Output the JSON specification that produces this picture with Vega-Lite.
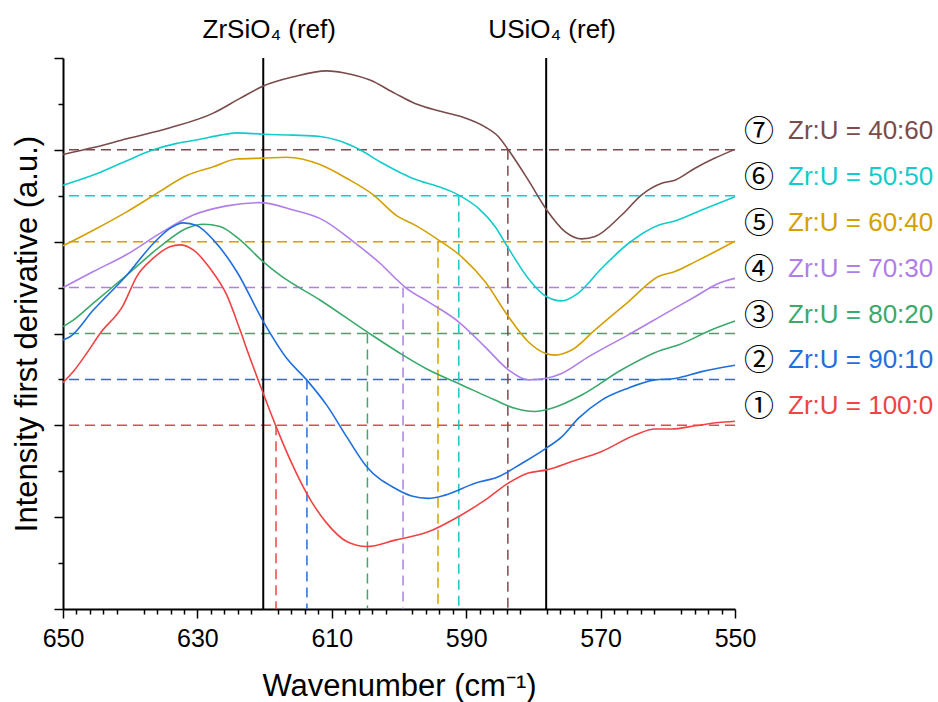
{
  "$schema": "https://vega.github.io/schema/vega-lite/v6.json",
  "width": 672,
  "height": 551,
  "autosize": {"type": "none"},
  "padding": {"left": 63, "top": 58, "right": 203, "bottom": 93},
  "background": "white",
  "config": {
    "view": {"stroke": null},
    "axis": {
      "domainColor": "black", "domainWidth": 2, "tickColor": "black", "tickWidth": 1.5,
      "labelColor": "black", "titleColor": "black", "labelFont": "Liberation Sans",
      "titleFont": "Liberation Sans", "titleFontWeight": "normal", "grid": false
    }
  },
  "resolve": {"axis": {"x": "independent"}},
  "datasets": {
    "series": [
      {"s": 1, "base": 4, "xc": 618.3, "num": "①", "label": "Zr:U = 100:0"},
      {"s": 2, "base": 5, "xc": 613.7, "num": "②", "label": "Zr:U = 90:10"},
      {"s": 3, "base": 6, "xc": 604.7, "num": "③", "label": "Zr:U = 80:20"},
      {"s": 4, "base": 7, "xc": 599.4, "num": "④", "label": "Zr:U = 70:30"},
      {"s": 5, "base": 8, "xc": 594.2, "num": "⑤", "label": "Zr:U = 60:40"},
      {"s": 6, "base": 9, "xc": 591.1, "num": "⑥", "label": "Zr:U = 50:50"},
      {"s": 7, "base": 10, "xc": 583.8, "num": "⑦", "label": "Zr:U = 40:60"}
    ],
    "refs": [
      {"name": "ZrSiO₄ (ref)", "x": 620.2},
      {"name": "USiO₄ (ref)", "x": 578.1}
    ],
    "curves": [
      {"s":7,"x":650,"y":9.90},{"s":7,"x":645.49,"y":10.05},{"s":7,"x":640.52,"y":10.24},{"s":7,"x":634.08,"y":10.48},{"s":7,"x":627.63,"y":10.80},{"s":7,"x":623.66,"y":11.12},{"s":7,"x":620.19,"y":11.39},{"s":7,"x":615.73,"y":11.59},{"s":7,"x":610.76,"y":11.72},{"s":7,"x":608.29,"y":11.68},{"s":7,"x":604.32,"y":11.52},{"s":7,"x":600.6,"y":11.23},{"s":7,"x":597.62,"y":11.01},{"s":7,"x":594.15,"y":10.85},{"s":7,"x":590.67,"y":10.72},{"s":7,"x":587.2,"y":10.50},{"s":7,"x":585.22,"y":10.29},{"s":7,"x":583.73,"y":10.0},{"s":7,"x":580.76,"y":9.34},{"s":7,"x":578.02,"y":8.69},{"s":7,"x":575.3,"y":8.22},{"s":7,"x":572.81,"y":8.06},{"s":7,"x":570.83,"y":8.11},{"s":7,"x":566.86,"y":8.58},{"s":7,"x":563.88,"y":9.02},{"s":7,"x":560.91,"y":9.27},{"s":7,"x":558.93,"y":9.34},{"s":7,"x":555.95,"y":9.60},{"s":7,"x":552.98,"y":9.82},{"s":7,"x":550,"y":10.01},
      {"s":6,"x":650,"y":9.23},{"s":6,"x":645.49,"y":9.45},{"s":6,"x":641.03,"y":9.73},{"s":6,"x":636.56,"y":10.0},{"s":6,"x":633.08,"y":10.14},{"s":6,"x":629.61,"y":10.23},{"s":6,"x":626.64,"y":10.32},{"s":6,"x":624.15,"y":10.37},{"s":6,"x":620.19,"y":10.34},{"s":6,"x":615.73,"y":10.32},{"s":6,"x":611.76,"y":10.29},{"s":6,"x":608.78,"y":10.19},{"s":6,"x":605.8,"y":10.0},{"s":6,"x":602.83,"y":9.74},{"s":6,"x":600.3,"y":9.54},{"s":6,"x":597.62,"y":9.36},{"s":6,"x":594.15,"y":9.20},{"s":6,"x":591.18,"y":9.02},{"s":6,"x":588.2,"y":8.73},{"s":6,"x":585.71,"y":8.33},{"s":6,"x":583.73,"y":7.86},{"s":6,"x":580.76,"y":7.20},{"s":6,"x":578.02,"y":6.80},{"s":6,"x":575.79,"y":6.71},{"s":6,"x":573.32,"y":6.88},{"s":6,"x":569.84,"y":7.42},{"s":6,"x":565.88,"y":7.96},{"s":6,"x":561.41,"y":8.36},{"s":6,"x":558.93,"y":8.45},{"s":6,"x":554.96,"y":8.69},{"s":6,"x":550,"y":8.98},
      {"s":5,"x":650,"y":7.91},{"s":5,"x":645.49,"y":8.25},{"s":5,"x":640.52,"y":8.65},{"s":5,"x":636.06,"y":9.05},{"s":5,"x":631.59,"y":9.44},{"s":5,"x":627.63,"y":9.63},{"s":5,"x":624.15,"y":9.80},{"s":5,"x":620.19,"y":9.82},{"s":5,"x":616.71,"y":9.84},{"s":5,"x":611.76,"y":9.68},{"s":5,"x":607.78,"y":9.38},{"s":5,"x":603.82,"y":9.02},{"s":5,"x":600.3,"y":8.56},{"s":5,"x":597.62,"y":8.36},{"s":5,"x":594.15,"y":8.04},{"s":5,"x":590.67,"y":7.67},{"s":5,"x":587.2,"y":7.13},{"s":5,"x":583.73,"y":6.37},{"s":5,"x":580.76,"y":5.82},{"s":5,"x":578.27,"y":5.57},{"s":5,"x":576.79,"y":5.53},{"s":5,"x":574.3,"y":5.64},{"s":5,"x":570.83,"y":6.08},{"s":5,"x":565.88,"y":6.69},{"s":5,"x":561.41,"y":7.24},{"s":5,"x":558.93,"y":7.35},{"s":5,"x":555.95,"y":7.56},{"s":5,"x":552.98,"y":7.78},{"s":5,"x":550,"y":8.01},
      {"s":4,"x":650,"y":7.0},{"s":4,"x":645.49,"y":7.35},{"s":4,"x":640.52,"y":7.72},{"s":4,"x":635.57,"y":8.18},{"s":4,"x":630.61,"y":8.58},{"s":4,"x":625.64,"y":8.78},{"s":4,"x":620.68,"y":8.85},{"s":4,"x":615.73,"y":8.69},{"s":4,"x":611.27,"y":8.47},{"s":4,"x":606.8,"y":8.0},{"s":4,"x":602.83,"y":7.53},{"s":4,"x":600.3,"y":7.17},{"s":4,"x":599.11,"y":7.01},{"s":4,"x":595.64,"y":6.69},{"s":4,"x":591.18,"y":6.26},{"s":4,"x":587.2,"y":5.71},{"s":4,"x":583.73,"y":5.21},{"s":4,"x":580.76,"y":4.99},{"s":4,"x":578.27,"y":5.02},{"s":4,"x":575.79,"y":5.13},{"s":4,"x":571.83,"y":5.49},{"s":4,"x":565.88,"y":5.97},{"s":4,"x":559.92,"y":6.47},{"s":4,"x":555.95,"y":6.80},{"s":4,"x":552.48,"y":7.09},{"s":4,"x":550,"y":7.20},
      {"s":3,"x":650,"y":6.15},{"s":3,"x":648.47,"y":6.29},{"s":3,"x":645.49,"y":6.66},{"s":3,"x":640.52,"y":7.27},{"s":3,"x":635.57,"y":7.89},{"s":3,"x":631.59,"y":8.29},{"s":3,"x":629.12,"y":8.38},{"s":3,"x":626.64,"y":8.33},{"s":3,"x":623.66,"y":8.04},{"s":3,"x":620.19,"y":7.56},{"s":3,"x":617.71,"y":7.27},{"s":3,"x":611.76,"y":6.73},{"s":3,"x":604.81,"y":6.04},{"s":3,"x":599.85,"y":5.57},{"s":3,"x":595.64,"y":5.21},{"s":3,"x":590.67,"y":4.88},{"s":3,"x":585.71,"y":4.55},{"s":3,"x":582.74,"y":4.37},{"s":3,"x":579.76,"y":4.30},{"s":3,"x":577.28,"y":4.37},{"s":3,"x":572.81,"y":4.66},{"s":3,"x":566.86,"y":5.21},{"s":3,"x":560.91,"y":5.64},{"s":3,"x":558.44,"y":5.75},{"s":3,"x":553.47,"y":6.08},{"s":3,"x":550,"y":6.27},
      {"s":2,"x":650,"y":5.86},{"s":2,"x":648.96,"y":5.93},{"s":2,"x":645.49,"y":6.51},{"s":2,"x":640.52,"y":7.27},{"s":2,"x":636.56,"y":7.96},{"s":2,"x":634.08,"y":8.29},{"s":2,"x":632.1,"y":8.41},{"s":2,"x":630.1,"y":8.35},{"s":2,"x":627.63,"y":8.04},{"s":2,"x":624.15,"y":7.35},{"s":2,"x":620.19,"y":6.26},{"s":2,"x":616.71,"y":5.46},{"s":2,"x":613.74,"y":4.99},{"s":2,"x":610.76,"y":4.44},{"s":2,"x":607.78,"y":3.75},{"s":2,"x":604.81,"y":3.10},{"s":2,"x":600.6,"y":2.63},{"s":2,"x":598.11,"y":2.46},{"s":2,"x":595.64,"y":2.41},{"s":2,"x":593.15,"y":2.48},{"s":2,"x":588.69,"y":2.74},{"s":2,"x":585.22,"y":2.88},{"s":2,"x":581.74,"y":3.17},{"s":2,"x":578.02,"y":3.51},{"s":2,"x":575.79,"y":3.75},{"s":2,"x":573.32,"y":4.15},{"s":2,"x":569.84,"y":4.55},{"s":2,"x":565.88,"y":4.81},{"s":2,"x":561.9,"y":4.99},{"s":2,"x":558.93,"y":5.02},{"s":2,"x":554.96,"y":5.17},{"s":2,"x":550,"y":5.31},
      {"s":1,"x":650,"y":4.93},{"s":1,"x":648.47,"y":5.17},{"s":1,"x":646.47,"y":5.57},{"s":1,"x":644.49,"y":6.0},{"s":1,"x":641.03,"y":6.62},{"s":1,"x":639.03,"y":7.24},{"s":1,"x":636.56,"y":7.64},{"s":1,"x":634.08,"y":7.89},{"s":1,"x":632.59,"y":7.93},{"s":1,"x":630.61,"y":7.82},{"s":1,"x":628.13,"y":7.42},{"s":1,"x":625.64,"y":6.84},{"s":1,"x":623.66,"y":6.08},{"s":1,"x":622.43,"y":5.57},{"s":1,"x":620.68,"y":4.88},{"s":1,"x":618.2,"y":3.94},{"s":1,"x":615.73,"y":3.10},{"s":1,"x":613.74,"y":2.52},{"s":1,"x":610.76,"y":1.87},{"s":1,"x":607.78,"y":1.47},{"s":1,"x":604.81,"y":1.36},{"s":1,"x":600.6,"y":1.50},{"s":1,"x":595.64,"y":1.68},{"s":1,"x":591.18,"y":2.01},{"s":1,"x":587.2,"y":2.37},{"s":1,"x":583.73,"y":2.74},{"s":1,"x":580.76,"y":2.96},{"s":1,"x":578.02,"y":3.03},{"s":1,"x":574.3,"y":3.21},{"s":1,"x":569.84,"y":3.43},{"s":1,"x":564.88,"y":3.79},{"s":1,"x":561.9,"y":3.92},{"s":1,"x":559.42,"y":3.92},{"s":1,"x":555.95,"y":3.99},{"s":1,"x":552.48,"y":4.06},{"s":1,"x":550,"y":4.09}
    ]
  },
  "layer": [
    {
      "data": {"name": "series"},
      "mark": {"type": "rule", "strokeDash": [10, 6], "strokeWidth": 1.5},
      "encoding": {
        "y": {"field": "base", "type": "quantitative",
          "scale": {"domain": [0, 12], "nice": false, "zero": false},
          "axis": {"title": "Intensity first derivative (a.u.)", "titleFontSize": 31, "titlePadding": 10,
            "values": [0,1,2,3,4,5,6,7,8,9,10,11,12], "labels": false,
            "tickSize": {"condition": {"test": "datum.value % 2 === 0", "value": 9}, "value": 5}}},
        "color": {"field": "s", "type": "nominal", "legend": null,
          "scale": {"domain": [1,2,3,4,5,6,7], "range": ["#f04343","#1f6fde","#3aa96b","#b07ee8","#d4a000","#12cccc","#7a4b4b"]}}
      }
    },
    {
      "data": {"name": "series"},
      "mark": {"type": "rule", "strokeDash": [10, 6], "strokeWidth": 1.5},
      "encoding": {
        "x": {"field": "xc", "type": "quantitative",
          "scale": {"domain": [550, 650], "reverse": true, "nice": false, "zero": false},
          "axis": {"orient": "bottom", "title": "Wavenumber (cm⁻¹)", "titleFontSize": 31, "titlePadding": 20,
            "values": [550, 570, 590, 610, 630, 650],
            "labelFontSize": 25, "labelPadding": 8, "labelFlush": false, "labelOverlap": false,
            "tickSize": 9}},
        "y": {"field": "base", "type": "quantitative"},
        "y2": {"datum": 0},
        "color": {"field": "s", "type": "nominal", "legend": null}
      }
    },
    {
      "data": {"name": "refs"},
      "mark": {"type": "rule", "color": "black", "strokeWidth": 2},
      "encoding": {"x": {"field": "x", "type": "quantitative",
        "axis": {"orient": "bottom", "title": null, "labels": false, "domain": false, "tickSize": 5,
          "values": [552,554,556,558,562,564,566,568,572,574,576,578,582,584,586,588,592,594,596,598,602,604,606,608,612,614,616,618,622,624,626,628,632,634,636,638,642,644,646,648]}}}
    },
    {
      "data": {"name": "refs"},
      "mark": {"type": "text", "color": "black", "fontSize": 26, "font": "Liberation Sans", "align": "center", "baseline": "alphabetic", "dy": -20, "dx": 6},
      "encoding": {
        "x": {"field": "x", "type": "quantitative", "axis": null},
        "y": {"datum": 12},
        "text": {"field": "name"}
      }
    },
    {
      "data": {"name": "curves"},
      "mark": {"type": "line", "strokeWidth": 1.6, "interpolate": "monotone"},
      "encoding": {
        "x": {"field": "x", "type": "quantitative", "axis": null},
        "y": {"field": "y", "type": "quantitative"},
        "color": {"field": "s", "type": "nominal", "legend": null},
        "detail": {"field": "s"}
      }
    },
    {
      "data": {"name": "series"},
      "mark": {"type": "text", "color": "black", "fontSize": 30, "font": "Noto Sans CJK SC", "align": "left", "baseline": "alphabetic", "dx": 9, "dy": -9},
      "encoding": {
        "x": {"datum": 550, "axis": null},
        "y": {"field": "base", "type": "quantitative"},
        "text": {"field": "num"}
      }
    },
    {
      "data": {"name": "series"},
      "mark": {"type": "text", "fontSize": 26, "font": "Liberation Sans", "align": "left", "baseline": "alphabetic", "dx": 53, "dy": -11},
      "encoding": {
        "x": {"datum": 550, "axis": null},
        "y": {"field": "base", "type": "quantitative"},
        "text": {"field": "label"},
        "color": {"field": "s", "type": "nominal", "legend": null}
      }
    }
  ]
}
